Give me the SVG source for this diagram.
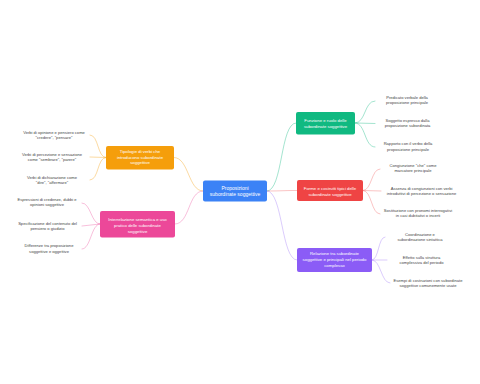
<svg xmlns="http://www.w3.org/2000/svg" width="480" height="384" viewBox="0 0 480 384">
<style>
text{font-family:"Liberation Sans",Arial,sans-serif;text-anchor:middle}
.nt{fill:#fff;font-size:4.3px}
.ct{fill:#fff;font-size:5px}
.lt{fill:#444;font-size:4.1px}
.c{fill:none;stroke-width:0.7;stroke-linecap:round}
.g{stroke:#10b981;stroke-opacity:.55}
.r{stroke:#ef4444;stroke-opacity:.45}
.p{stroke:#8b5cf6;stroke-opacity:.45}
.o{stroke:#f59e0b;stroke-opacity:.55}
.k{stroke:#ec4899;stroke-opacity:.5}
</style>
<rect width="480" height="384" fill="#fff"/>
<g id="connectors">
<path class="c g" d="M267,191 C283,191 280,123 296,123"/>
<path class="c r" d="M267,191 C283,191 281,190.5 297,190.5"/>
<path class="c p" d="M267,191 C283,191 281,260 297,260"/>
<path class="c o" d="M203,191 C188,191 189,157.5 174,157.5"/>
<path class="c k" d="M203,191 C188,191 190,224 175,224"/>
<path class="c g" d="M355,123 C366,123 364,101 375,101"/>
<path class="c g" d="M355,123 L375,123.5"/>
<path class="c g" d="M355,123 C366,123 364,147 375,147"/>
<path class="c r" d="M363,190.5 C372,190.5 371,169 380,169"/>
<path class="c r" d="M363,190.5 L381,191"/>
<path class="c r" d="M363,190.5 C372,190.5 371,214 380,214"/>
<path class="c p" d="M372,260 C379,260 378,237 385,237"/>
<path class="c p" d="M372,260 L387,260"/>
<path class="c p" d="M372,260 C381,260 381,283 390,283"/>
<path class="c o" d="M106,157.5 C97,157.5 99,135 90,135"/>
<path class="c o" d="M106,157.5 L90,157"/>
<path class="c o" d="M106,157.5 C97,157.5 99,180 90,180"/>
<path class="c k" d="M100,224 C91,224 91,203 82,203"/>
<path class="c k" d="M100,224 L82,226"/>
<path class="c k" d="M100,224 C91,224 91,249 82,249"/>
</g>
<g id="central">
<rect x="203" y="180.5" width="64" height="21" rx="2" fill="#3b82f6"/>
<text class="ct" x="235" y="189.8">Proposizioni</text>
<text class="ct" x="235" y="195.8">subordinate soggettive</text>
</g>
<g id="n-funzione">
<rect x="296" y="112" width="59" height="22.5" rx="2" fill="#10b981"/>
<text class="nt" x="325.5" y="122.3">Funzione e ruolo delle</text>
<text class="nt" x="325.5" y="127.6">subordinate soggettive</text>
</g>
<g id="n-forme">
<rect x="297" y="180" width="66" height="21" rx="2" fill="#ef4444"/>
<text class="nt" x="330" y="190.3">Forme e costrutti tipici delle</text>
<text class="nt" x="330" y="195.6">subordinate soggettive</text>
</g>
<g id="n-relazione">
<rect x="297" y="248" width="75" height="24" rx="2" fill="#8b5cf6"/>
<text class="nt" x="334.5" y="255.3">Relazione tra subordinate</text>
<text class="nt" x="334.5" y="261">soggettive e principali nel periodo</text>
<text class="nt" x="334.5" y="266.7">complesso</text>
</g>
<g id="n-tipologie">
<rect x="106" y="146" width="68" height="23.5" rx="2" fill="#f59e0b"/>
<text class="nt" x="140" y="153.4">Tipologie di verbi che</text>
<text class="nt" x="140" y="158.9">introducono subordinate</text>
<text class="nt" x="140" y="164.4">soggettive</text>
</g>
<g id="n-interrelazione">
<rect x="100" y="211" width="75" height="26.5" rx="2" fill="#ec4899"/>
<text class="nt" x="137.5" y="221.3">Interrelazione semantica e uso</text>
<text class="nt" x="137.5" y="227">pratico delle subordinate</text>
<text class="nt" x="137.5" y="232.7">soggettive</text>
</g>
<g id="l-g1"><text class="lt" x="407" y="99.1">Predicato verbale della</text><text class="lt" x="407" y="104.4">proposizione principale</text></g>
<g id="l-g2"><text class="lt" x="407.5" y="121.6">Soggetto espresso dalla</text><text class="lt" x="407.5" y="126.9">proposizione subordinata</text></g>
<g id="l-g3"><text class="lt" x="408" y="145.2">Rapporto con il verbo della</text><text class="lt" x="408" y="150.5">proposizione principale</text></g>
<g id="l-r1"><text class="lt" x="413" y="167.3">Congiunzione "che" come</text><text class="lt" x="413" y="172.4">marcatore principale</text></g>
<g id="l-r2"><text class="lt" x="421.5" y="189.5">Assenza di congiunzioni con verbi</text><text class="lt" x="421.5" y="194.6">introduttivi di percezione o sensazione</text></g>
<g id="l-r3"><text class="lt" x="418" y="212.3">Sostituzione con pronomi interrogativi</text><text class="lt" x="418" y="217.4">in casi dubitativi o incerti</text></g>
<g id="l-p1"><text class="lt" x="420" y="236.3">Coordinazione e</text><text class="lt" x="420" y="241.4">subordinazione sintattica</text></g>
<g id="l-p2"><text class="lt" x="421.5" y="259.2">Effetto sulla struttura</text><text class="lt" x="421.5" y="264.4">complessiva del periodo</text></g>
<g id="l-p3"><text class="lt" x="428" y="282">Esempi di costruzioni con subordinate</text><text class="lt" x="428" y="287.2">soggettive comunemente usate</text></g>
<g id="l-o1"><text class="lt" x="54" y="134">Verbi di opinione e pensiero come</text><text class="lt" x="54" y="139.1">"credere", "pensare"</text></g>
<g id="l-o2"><text class="lt" x="52" y="155.6">Verbi di percezione e sensazione</text><text class="lt" x="52" y="160.9">come "sembrare", "parere"</text></g>
<g id="l-o3"><text class="lt" x="52" y="178.5">Verbi di dichiarazione come</text><text class="lt" x="52" y="183.6">"dire", "affermare"</text></g>
<g id="l-k1"><text class="lt" x="47" y="201.3">Espressioni di credenze, dubbi e</text><text class="lt" x="47" y="206.4">opinioni soggettive</text></g>
<g id="l-k2"><text class="lt" x="47.5" y="224.6">Specificazione del contenuto del</text><text class="lt" x="47.5" y="229.9">pensiero o giudizio</text></g>
<g id="l-k3"><text class="lt" x="49" y="247.3">Differenze tra proposizione</text><text class="lt" x="49" y="252.6">soggettive e oggettive</text></g>
</svg>
